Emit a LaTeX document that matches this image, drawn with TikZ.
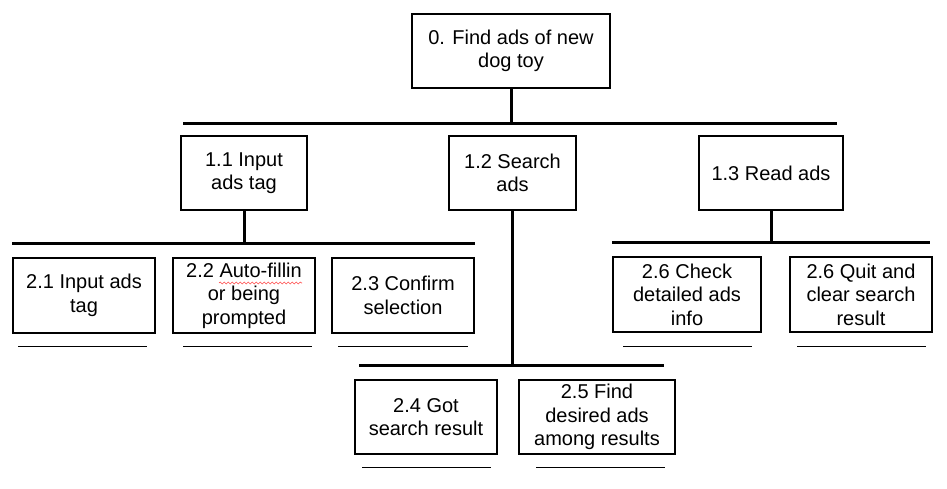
\documentclass[tikz,border=0pt]{standalone}
\usepackage{fontspec}
\setmainfont{Liberation Sans}
\usetikzlibrary{decorations.pathmorphing}
\begin{document}
\begin{tikzpicture}[x=1pt,y=-1pt,
  box/.style={draw=black, line width=2pt, fill=white, inner sep=0pt, align=center,
    font=\fontsize{20}{23.5}\selectfont, minimum height=74pt},
  bar/.style={line width=3pt},
  uline/.style={line width=1pt}]
\useasboundingbox[fill=white] (0,0) rectangle (947,488);

% nodes
\node[box, minimum width=198pt] (b0) at (511,51) {0. Find ads of new\\dog toy};
\node[box, minimum width=126pt] (b11) at (244,173) {1.1 Input\\ads tag};
\node[box, minimum width=127pt] (b12) at (512.5,173) {1.2 Search\\ads};
\node[box, minimum width=144pt] (b13) at (771,173) {1.3 Read ads};
\node[box, minimum width=142pt, minimum height=75pt] (b21) at (84,295.5) {2.1 Input ads\\tag};
\node[box, minimum width=142pt, minimum height=75pt] (b22) at (244,295.5) {2.2 Auto-fillin\\or being\\prompted};
\node[box, minimum width=142pt, minimum height=75pt] (b23) at (403,295.5) {2.3 Confirm\\selection};
\node[box, minimum width=148pt, minimum height=75pt] (b26a) at (687,294.5) {2.6 Check\\detailed ads\\info};
\node[box, minimum width=142pt, minimum height=75pt] (b26b) at (861,294.5) {2.6 Quit and\\clear search\\result};
\node[box, minimum width=142pt] (b24) at (426,417) {2.4 Got\\search result};
\node[box, minimum width=156pt] (b25) at (597,417) {2.5 Find\\desired ads\\among results};

% bars
\coordinate (t1) at (183,123); \coordinate (t2) at (837,123);
\coordinate (l1) at (12,243);  \coordinate (l2) at (475,243);
\coordinate (r1) at (612,242); \coordinate (r2) at (930,242);
\coordinate (m1) at (359,365); \coordinate (m2) at (664,365);
\draw[bar] (t1) -- (t2);
\draw[bar] (l1) -- (l2);
\draw[bar] (r1) -- (r2);
\draw[bar] (m1) -- (m2);
\draw[bar] (b0.south) -- (b0.south |- t1);
\draw[bar] (b11.south) -- (b11.south |- l1);
\draw[bar] (b13.south) -- (b13.south |- r1);
\draw[bar] (b12.south) -- (b12.south |- m1);

% underlines
\coordinate (u21a) at (18,346);  \coordinate (u21b) at (147,346);
\coordinate (u22a) at (183,346); \coordinate (u22b) at (312,346);
\coordinate (u23a) at (338,346); \coordinate (u23b) at (468,346);
\coordinate (u26a) at (623,346); \coordinate (u26b) at (752,346);
\coordinate (u27a) at (797,346); \coordinate (u27b) at (926,346);
\coordinate (u24a) at (362,467); \coordinate (u24b) at (491,467);
\coordinate (u25a) at (536,467); \coordinate (u25b) at (665,467);
\draw[uline] (u21a) -- (u21b);
\draw[uline] (u22a) -- (u22b);
\draw[uline] (u23a) -- (u23b);
\draw[uline] (u26a) -- (u26b);
\draw[uline] (u27a) -- (u27b);
\draw[uline] (u24a) -- (u24b);
\draw[uline] (u25a) -- (u25b);

% spell-check squiggle
\coordinate (s1) at (219,283); \coordinate (s2) at (302,283);
\draw[red!70, line width=0.6pt, decorate, decoration={snake, amplitude=1pt, segment length=4pt}] (s1) -- (s2);
\end{tikzpicture}
\end{document}
